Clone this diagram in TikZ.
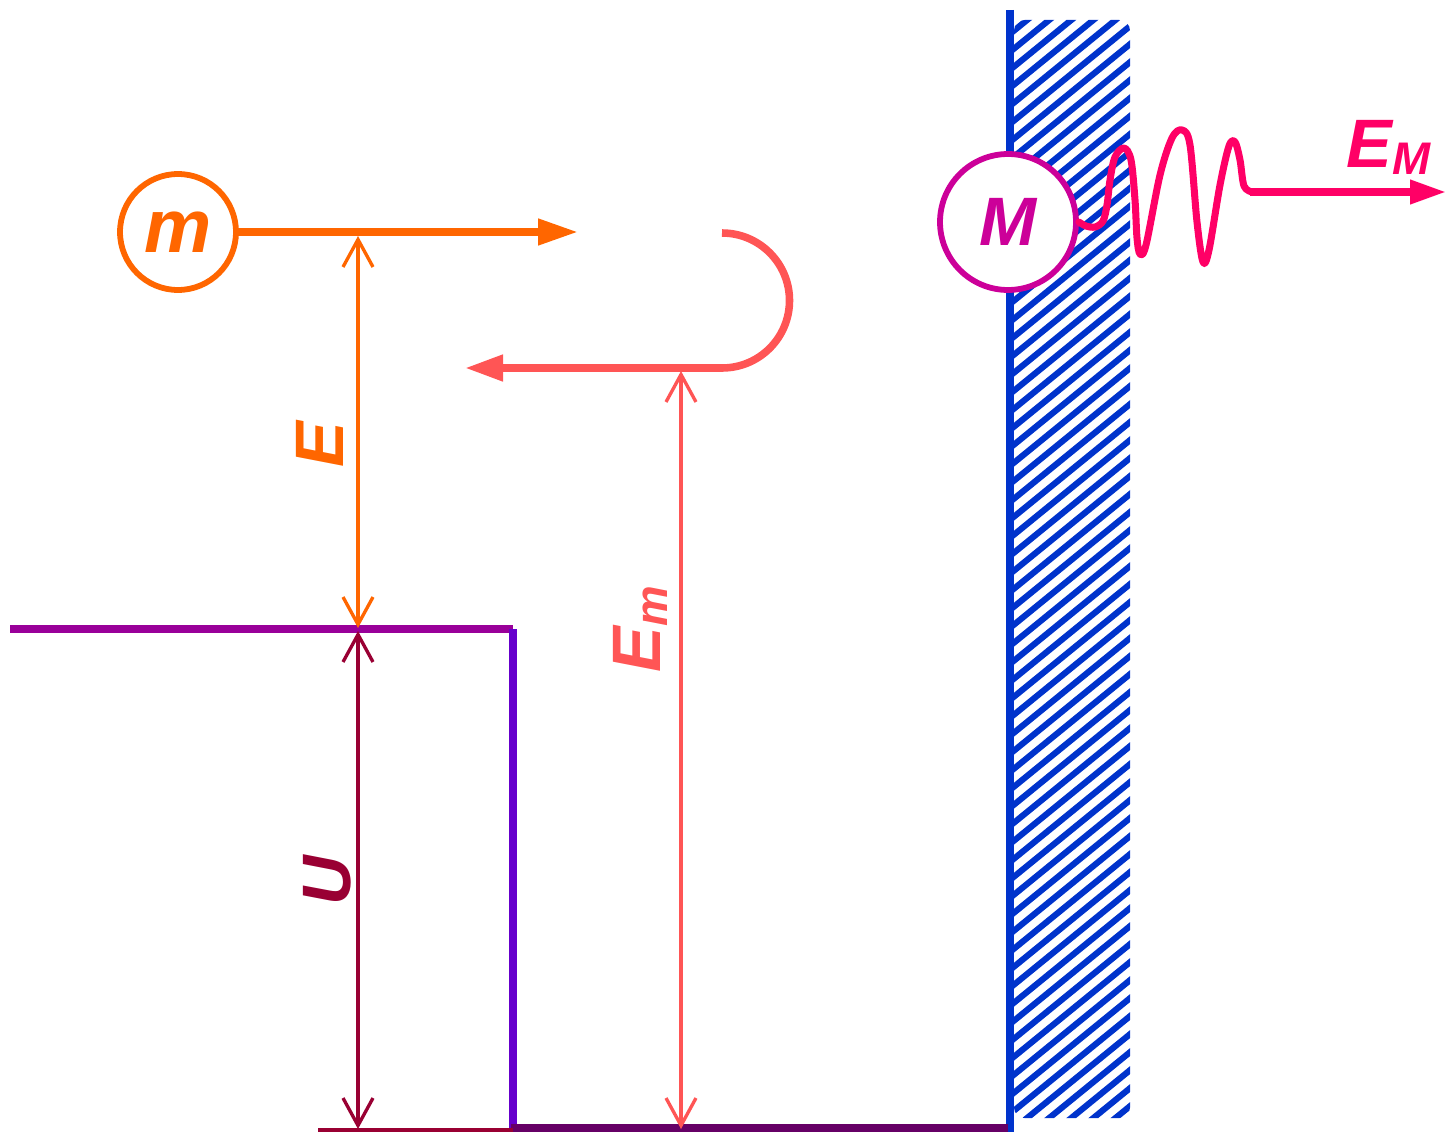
\documentclass[tikz,border=0pt]{standalone}
\usepackage{fontspec}
\setmainfont{Liberation Sans}
\usetikzlibrary{arrows.meta}
\definecolor{corange}{HTML}{FF6600}
\definecolor{ccoral}{HTML}{FF5555}
\definecolor{ctop}{HTML}{990099}
\definecolor{cvert}{HTML}{6600CC}
\definecolor{cbot}{HTML}{660066}
\definecolor{cU}{HTML}{990033}
\definecolor{cwall}{HTML}{0033CC}
\definecolor{cM}{HTML}{CC0099}
\definecolor{cwave}{HTML}{FF0066}
\newcommand{\mysub}[1]{\raisebox{-4.5pt}{\fontsize{26}{26}\selectfont #1}}
\begin{document}
\begin{tikzpicture}[x=0.02cm,y=-0.02cm,
  thickarrow/.style={line width=4.3pt,-{Triangle[length=0.8cm,width=0.5cm]}},
  potline/.style={line width=4.6pt},
  dimline/.style={line width=1.9pt,arrows={Straight Barb[length=0.55cm,width=0.6cm]-Straight Barb[length=0.55cm,width=0.6cm]}},
  lbl/.style={font=\fontsize{39}{41}\selectfont\bfseries\itshape, inner sep=0pt},
  particle/.style={circle, line width=3.3pt, fill=white, inner sep=0pt},
]
\useasboundingbox (0,0) rectangle (1446,1132);

% wall hatching
\begin{scope}
  \clip[rounded corners=6] (1014,20) rectangle (1130,1118);
  \foreach \c in {20,38,...,1300}
    \draw[cwall, line width=3.5pt] (1005,\c) -- (1140,\c-110);
\end{scope}
\coordinate (walltop) at (1010,10);
\coordinate (wallbot) at (1010,1132);
\draw[cwall, line width=4.8pt] (walltop) -- (wallbot);

% potential well
\coordinate (tl) at (10,629);
\coordinate (corner) at (513,629);
\coordinate (cornerbot) at (513,1132);
\coordinate (cb) at (511,1128);
\coordinate (br) at (1008,1128);
\coordinate (ubl) at (318,1130);
\coordinate (ubr) at (513,1130);
\draw[ctop, potline] (tl) -- (corner);
\draw[cvert, potline] (corner) -- (cornerbot);
\draw[cbot, potline] (cb) -- (br);
\draw[cU, line width=1.9pt] (ubl) -- (ubr);

% particle m
\node[particle, lbl, font=\fontsize{43}{45}\selectfont\bfseries\itshape, draw=corange, text=corange, minimum size=2.32cm] (m) at (178,232) {m};
\coordinate (mend) at (578,232);
\draw[corange, thickarrow] (m.east) -- (mend);

% reflected path
\coordinate (rstart) at (722,233);
\coordinate (rend) at (465,368);
\draw[ccoral, line width=4.3pt, -{Triangle[length=0.76cm,width=0.5cm]}]
  (rstart) arc[start angle=-90, end angle=90, radius=67.5] -- (rend);

% dimension E
\coordinate (Etop) at (358,236);
\coordinate (Ebot) at (358,628);
\draw[corange, dimline] (Etop) -- (Ebot);
\node[lbl, text=corange, rotate=90, anchor=base west] (Elab) at (343,468) {E};

% dimension U
\coordinate (Utop) at (358,631);
\coordinate (Ubot) at (358,1129);
\draw[cU, dimline] (Utop) -- (Ubot);
\node[lbl, text=cU, rotate=90, anchor=base west] (Ulab) at (350,906) {U};

% dimension Em
\coordinate (Emtop) at (681,371);
\coordinate (Embot) at (681,1129);
\draw[ccoral, dimline] (Emtop) -- (Embot);
\node[lbl, text=ccoral, rotate=90, anchor=base west] (Emlab) at (660,673) {E\mysub{m}};

% particle M on wall
\node[particle, lbl, draw=cM, text=cM, minimum size=2.72cm] (M) at (1008,222) {M};

% emitted wave
\coordinate (wstart) at (1250,192);
\coordinate (wend) at (1446,192);
\draw[cwave, line width=4pt, line cap=round, line join=round]
  plot[smooth, tension=0.55] coordinates {(M.east) (1086,226) (1095,227) (1103,221) (1107,205) (1110,180) (1115,157) (1124,148) (1131,160) (1135,200) (1137,238) (1140,254) (1146,245) (1160,175) (1172,138) (1182,130) (1190,145) (1197,222) (1203,262) (1209,250) (1220,185) (1229,146) (1235,142) (1240,160) (1244,186) (1252,192)};
\draw[cwave, line width=4pt, -{Triangle[length=0.72cm,width=0.46cm]}] (wstart) -- (wend);
\node[lbl, text=cwave, anchor=base west] (EMlab) at (1346,167) {E\mysub{M}};
\end{tikzpicture}
\end{document}
